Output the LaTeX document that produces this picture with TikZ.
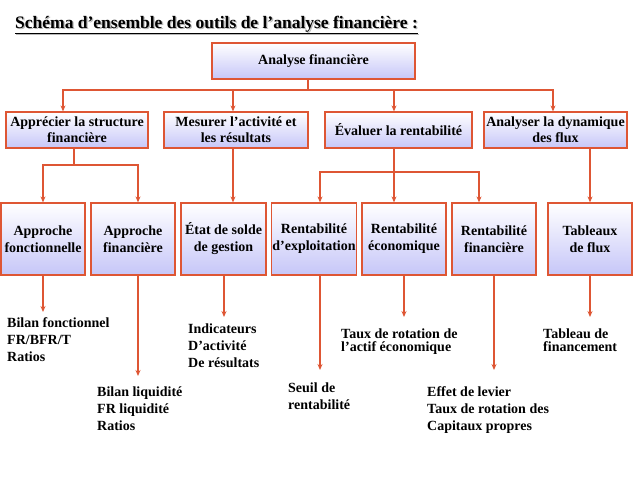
\documentclass[tikz,border=0pt]{standalone}
\usepackage{fontspec}
\setmainfont{Liberation Serif}
\usepackage{xcolor}
\usetikzlibrary{arrows.meta}

\definecolor{brique}{RGB}{222,86,52}
\definecolor{lavande}{RGB}{198,198,248}

\newcommand{\ombre}[1]{\makebox[0pt][l]{\hspace{1.3pt}\raisebox{-1.3pt}{\textcolor{black!28}{#1}}}#1}

\begin{document}
\begin{tikzpicture}[
  x=1pt, y=-1pt,
  >={Stealth[length=6pt,width=5pt]},
  boite/.style={draw=brique, line width=1.2pt, top color=white, bottom color=lavande,
                inner sep=0.5pt, align=center,
                font=\fontsize{14}{16}\selectfont\bfseries},
  boiteH/.style={boite, minimum height=72pt, minimum width=84pt,
                 font=\fontsize{14}{17}\selectfont\bfseries},
  feuille/.style={anchor=north west, inner sep=0pt, align=left,
                  font=\fontsize{14}{17}\selectfont\bfseries},
  serre/.style={feuille, font=\fontsize{14}{13}\selectfont\bfseries},
  trait/.style={draw=brique, line width=1.2pt},
  fleche/.style={trait, ->, color=brique}
]
\useasboundingbox (0,0) rectangle (638,479);

%% ---- titre ----
\node[anchor=base west, inner sep=0pt, font=\fontsize{17.5}{20}\selectfont\bfseries]
  (titre) at (15,28) {\ombre{\underline{Schéma d’ensemble des outils de l’analyse financière :}}};

%% ---- niveau 1 et 2 ----
\node[boite, minimum width=203pt, minimum height=36pt] (analyse) at (313.5,61) {Analyse financière};

\node[boite, minimum width=142pt, minimum height=36pt] (struct) at (77,130)
  {Apprécier la structure\\financière};
\node[boite, minimum width=144pt, minimum height=36pt] (mesure) at (236,130)
  {Mesurer l’activité et\\les résultats};
\node[boite, minimum width=147pt, minimum height=36pt] (eval) at (398.5,130)
  {Évaluer la rentabilité};
\node[boite, minimum width=143pt, minimum height=36pt] (dyn) at (555.5,130)
  {Analyser la dynamique\\des flux};

%% ---- niveau 3 ----
\node[boiteH] (afonc) at (43,239) {Approche\\fonctionnelle};
\node[boiteH] (afin) at (133,239) {Approche\\financière};
\node[boiteH, minimum width=85pt] (etat) at (223.5,239) {État de solde\\de gestion};
\node[boiteH] (rexp) at (314,239) {Rentabilité\\d’exploitation};
\node[boiteH] (reco) at (404,239) {Rentabilité\\économique};
\node[boiteH] (rfin) at (494,239) {Rentabilité\\financière};
\node[boiteH] (tflux) at (590,239) {Tableaux\\de flux};

%% ---- outils ----
\node[feuille] (bilanf) at (7,317.5) {Bilan fonctionnel\\FR/BFR/T\\Ratios};
\node[feuille] (bilanl) at (97,386.5) {Bilan liquidité\\FR liquidité\\Ratios};
\node[feuille] (indic) at (188,323.5) {Indicateurs\\D’activité\\De résultats};
\node[feuille] (seuil) at (288,382.5) {Seuil de\\rentabilité};
\node[serre] (tauxa) at (341,328.5) {Taux de rotation de\\l’actif économique};
\node[feuille] (effet) at (427,386.5) {Effet de levier\\Taux de rotation des\\Capitaux propres};
\node[serre] (tabfin) at (543,328.5) {Tableau de\\financement};

%% ---- jonctions ----
\coordinate (j0) at (308,90);
\coordinate (j1) at (74,165);
\coordinate (j2) at (394,172);

%% ---- analyse -> niveau 2 ----
\draw[trait] (analyse.south -| j0) -- (j0);
\draw[fleche] (j0) -| ([xshift=-14pt]struct.north);
\draw[fleche] (j0) -| ([xshift=-3pt]mesure.north);
\draw[fleche] (j0) -| ([xshift=-4.5pt]eval.north);
\draw[fleche] (j0) -| ([xshift=-2.5pt]dyn.north);

%% ---- niveau 2 -> niveau 3 ----
\draw[trait] (struct.south -| j1) -- (j1);
\draw[fleche] (j1) -| (afonc.north);
\draw[fleche] (j1) -| ([xshift=5pt]afin.north);

\draw[fleche] ([xshift=-3pt]mesure.south) -- ([xshift=-3pt]mesure.south |- etat.north);

\draw[trait] (eval.south -| j2) -- (j2);
\draw[fleche] (j2) -| ([xshift=6pt]rexp.north);
\draw[fleche] (j2) -| ([xshift=-10pt]reco.north);
\draw[fleche] (j2) -| ([xshift=-15pt]rfin.north);

\draw[fleche] (tflux.north |- dyn.south) -- (tflux.north);

%% ---- niveau 3 -> outils ----
\draw[fleche, shorten >=5.5pt] (afonc.south) -- (afonc.south |- bilanf.north);
\draw[fleche, shorten >=10.5pt] ([xshift=5pt]afin.south) -- ([xshift=5pt]afin.south |- bilanl.north);
\draw[fleche, shorten >=6.5pt] ([xshift=0.5pt]etat.south) -- ([xshift=0.5pt]etat.south |- indic.north);
\draw[fleche, shorten >=12.5pt] ([xshift=6pt]rexp.south) -- ([xshift=6pt]rexp.south |- seuil.north);
\draw[fleche, shorten >=11.5pt] (reco.south) -- (reco.south |- tauxa.north);
\draw[fleche, shorten >=16.5pt] (rfin.south) -- (rfin.south |- effet.north);
\draw[fleche, shorten >=11.5pt] (tflux.south) -- (tflux.south |- tabfin.north);

\end{tikzpicture}
\end{document}
